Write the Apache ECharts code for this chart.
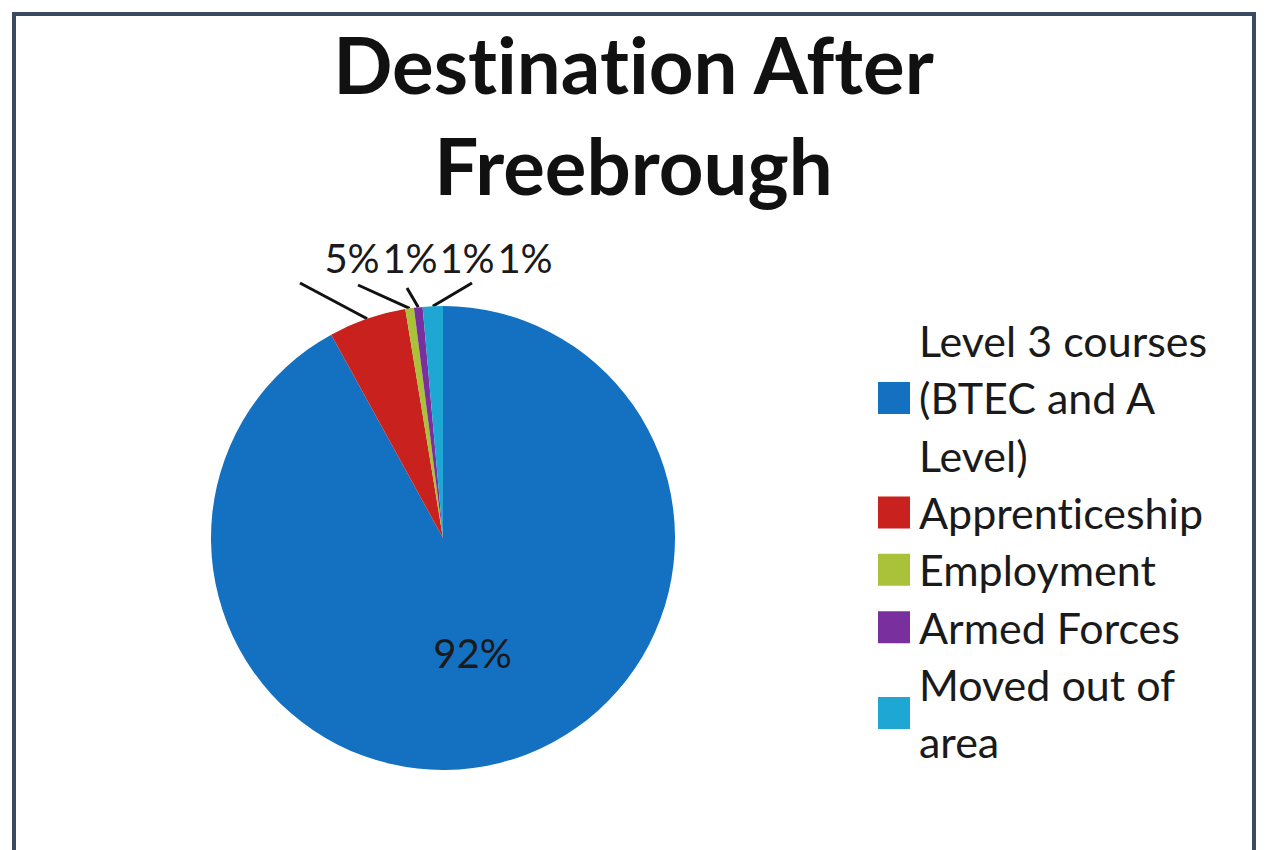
<!DOCTYPE html>
<html>
<head>
<meta charset="utf-8">
<script src="https://cdn.jsdelivr.net/npm/echarts@6/dist/echarts.min.js"></script>
<style>
  html, body { margin: 0; padding: 0; background: #fff; }
  #chart { width: 1267px; height: 850px; }
  /* Lato joins "ti" by default, the original font doesn't */
  #chart text { font-variant-ligatures: none !important; font-feature-settings: "liga" 0, "clig" 0 !important; }
</style>
</head>
<body>
<div id="chart"></div>
<script>
const categories = [
  "Level 3 courses (BTEC and A Level)",
  "Apprenticeship",
  "Employment",
  "Armed Forces",
  "Moved out of area",
];
const shares = [92, 5.4, 0.6, 0.6, 1.4];
const sliceColors = ["#1470c0", "#c9211e", "#a9c23a", "#7a2f9e", "#1fa7d4"];

// where the outside labels sit (top row) and where their leader lines end
const outsideLabelX = [352, 410, 467, 525];
const leaderEnds = [[300, 283], [358, 285], [407, 288], [472, 283]];

const FONT = "Lato";

// greedy word wrap for the legend names
function wrap(text, maxChars) {
  const lines = [];
  let cur = "";
  text.split(" ").forEach((w) => {
    if (cur && (cur + " " + w).length > maxChars) {
      lines.push(cur);
      cur = w;
    } else {
      cur = cur ? cur + " " + w : w;
    }
  });
  if (cur) lines.push(cur);
  return lines.join("\n");
}

const chart = echarts.init(document.getElementById("chart"), null, { renderer: "svg" });

const option = {
  backgroundColor: "#fff",
  animation: false,
  title: {
    text: "Destination After\nFreebrough",
    left: "center",
    top: 8,
    textStyle: {
      fontFamily: FONT,
      fontSize: 78,
      fontWeight: "bold",
      lineHeight: 101,
      color: "#111",
    },
  },
  legend: {
    orient: "vertical",
    left: 878,
    top: 312,
    padding: 0,
    itemWidth: 32,
    itemHeight: 32,
    itemGap: 0,
    icon: "rect",
    selectedMode: false,
    data: categories,
    formatter: (name) => wrap(name, 15),
    textStyle: {
      fontFamily: FONT,
      fontSize: 43,
      lineHeight: 57.3,
      color: "#1a1a1a",
      padding: [0, 0, 0, 4],
    },
  },
  graphic: [
    {
      type: "rect",
      shape: { x: 14, y: 14, width: 1240, height: 860 },
      style: { fill: "none", stroke: "#3b4a63", lineWidth: 4 },
      silent: true,
    },
  ],
  series: [
    {
      type: "pie",
      center: [443, 538],
      radius: [0, 232],
      startAngle: 90,
      clockwise: true,
      avoidLabelOverlap: false,
      emphasis: { disabled: true },
      label: {
        show: true,
        position: "outside",
        fontFamily: FONT,
        fontSize: 40,
        color: "#1a1a1a",
        formatter: (p) => Math.round(p.percent) + "%",
      },
      labelLine: {
        show: true,
        lineStyle: { color: "#111", width: 3 },
      },
      labelLayout: (params) => {
        if (params.dataIndex === 0) return {};
        const i = params.dataIndex - 1;
        return {
          x: outsideLabelX[i],
          y: 258,
          align: "center",
          verticalAlign: "middle",
          labelLinePoints: [params.labelLinePoints[0], leaderEnds[i]],
        };
      },
      data: categories.map((name, i) => {
        const item = {
          name: name,
          value: shares[i],
          itemStyle: { color: sliceColors[i] },
        };
        if (i === 0) {
          item.label = { position: "inside" };
          item.labelLine = { show: false };
        }
        return item;
      }),
    },
  ],
};

chart.setOption(option);
</script>
</body>
</html>
